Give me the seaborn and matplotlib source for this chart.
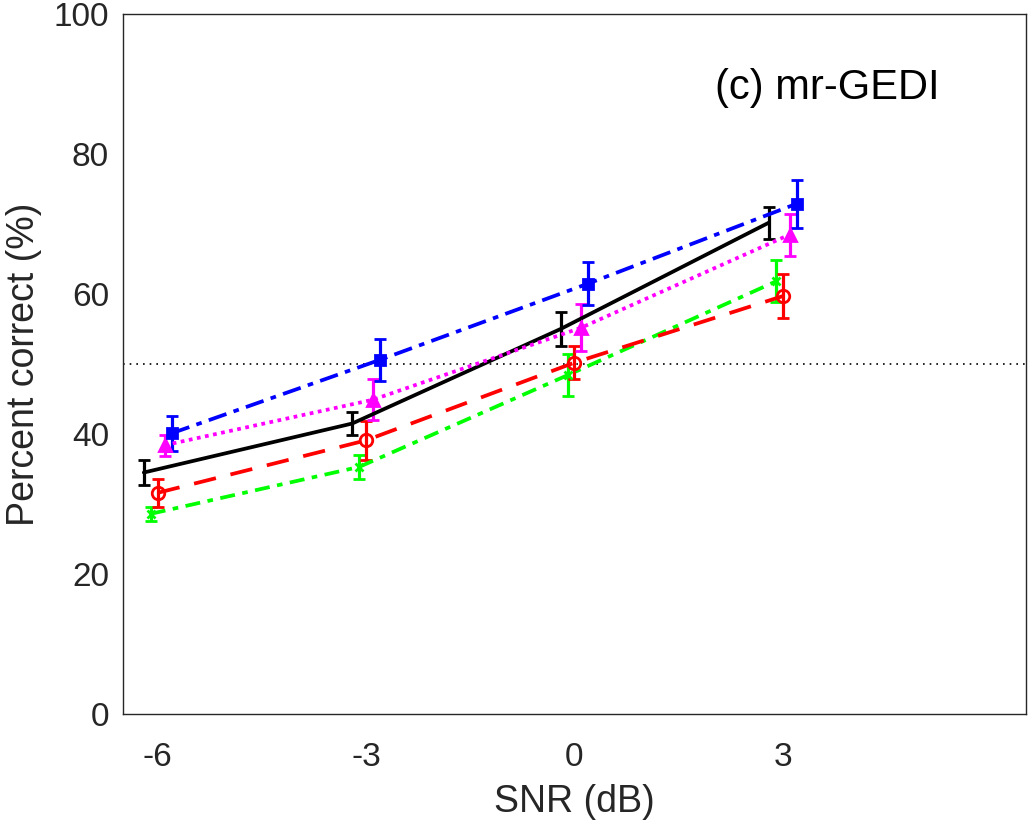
import numpy as np
import matplotlib.pyplot as plt
import seaborn as sns

# SNR conditions (dB) and per-condition results
snr = [-6, -3, 0, 3]
offsets = [-0.2, -0.1, 0.0, 0.1, 0.2]

black_mean = [34.5, 41.5, 55.0, 70.2]
black_err = [1.8, 1.7, 2.4, 2.3]
green_mean = [28.6, 35.3, 48.4, 61.8]
green_err = [1.0, 1.7, 3.0, 3.0]
red_mean = [31.6, 39.1, 50.2, 59.7]
red_err = [2.0, 2.8, 2.4, 3.1]
magenta_mean = [38.4, 44.9, 55.2, 68.5]
magenta_err = [1.5, 2.9, 3.4, 3.0]
blue_mean = [40.1, 50.6, 61.5, 72.9]
blue_err = [2.5, 3.0, 3.1, 3.4]

sns.set_theme(style="white")
plt.rcParams['font.family'] = ['Liberation Sans', 'DejaVu Sans']

fig = plt.figure(figsize=(10.3, 8.23), dpi=100)
ax = fig.add_axes([0.1194, 0.1324, 0.8767, 0.8506])

# mean, err, offset, colour, linestyle, marker, markersize, face
series = [
    (black_mean, black_err, offsets[0], 'black', '-', None, 0, 'black'),
    (green_mean, green_err, offsets[1], '#00ff00', (0, (4, 2, 1.5, 2)), 'x', 6, '#00ff00'),
    (red_mean, red_err, offsets[2], '#ff0000', (0, (6, 4)), 'o', 9, 'none'),
    (magenta_mean, magenta_err, offsets[3], '#ff00ff', (0, (1, 1.2)), '^', 9, '#ff00ff'),
    (blue_mean, blue_err, offsets[4], '#0000ff', (0, (5, 2, 1.5, 2)), 's', 6.5, '#0000ff'),
]

ax.axhline(50, color='black', linestyle=(0, (1, 3)), linewidth=1.2, zorder=1)

for mean, err, off, col, ls, mk, ms, mfc in series:
    x = np.array(snr) + off
    ax.errorbar(x, mean, yerr=err, color=col, linestyle=ls, linewidth=2.7,
                marker=mk, markersize=ms, markerfacecolor=mfc, markeredgecolor=col,
                markeredgewidth=2, elinewidth=2.3, capsize=4.5, capthick=2.3,
                zorder=3)

ax.set_xlim(-6.5, 6.5)
ax.set_ylim(0, 100)
ax.set_xticks(snr)
ax.set_xticklabels(['-6', '-3', '0', '3'])
ax.set_yticks([0, 20, 40, 60, 80, 100])
ax.tick_params(axis='both', direction='in', length=7, width=1, labelsize=24,
               colors='#262626')
ax.tick_params(axis='x', pad=20)
ax.tick_params(axis='y', pad=10)
for s in ax.spines.values():
    s.set_color('#262626')
    s.set_linewidth(1)
ax.set_xlabel('SNR (dB)', fontsize=27, color='#262626', labelpad=8)
ax.set_ylabel('Percent correct (%)', fontsize=27, color='#262626', labelpad=8)
ax.text(2.02, 89.4, '(c) mr-GEDI', fontsize=30, color='black', va='center', ha='left')
ax.grid(False)

fig.savefig('out.png', dpi=100)
